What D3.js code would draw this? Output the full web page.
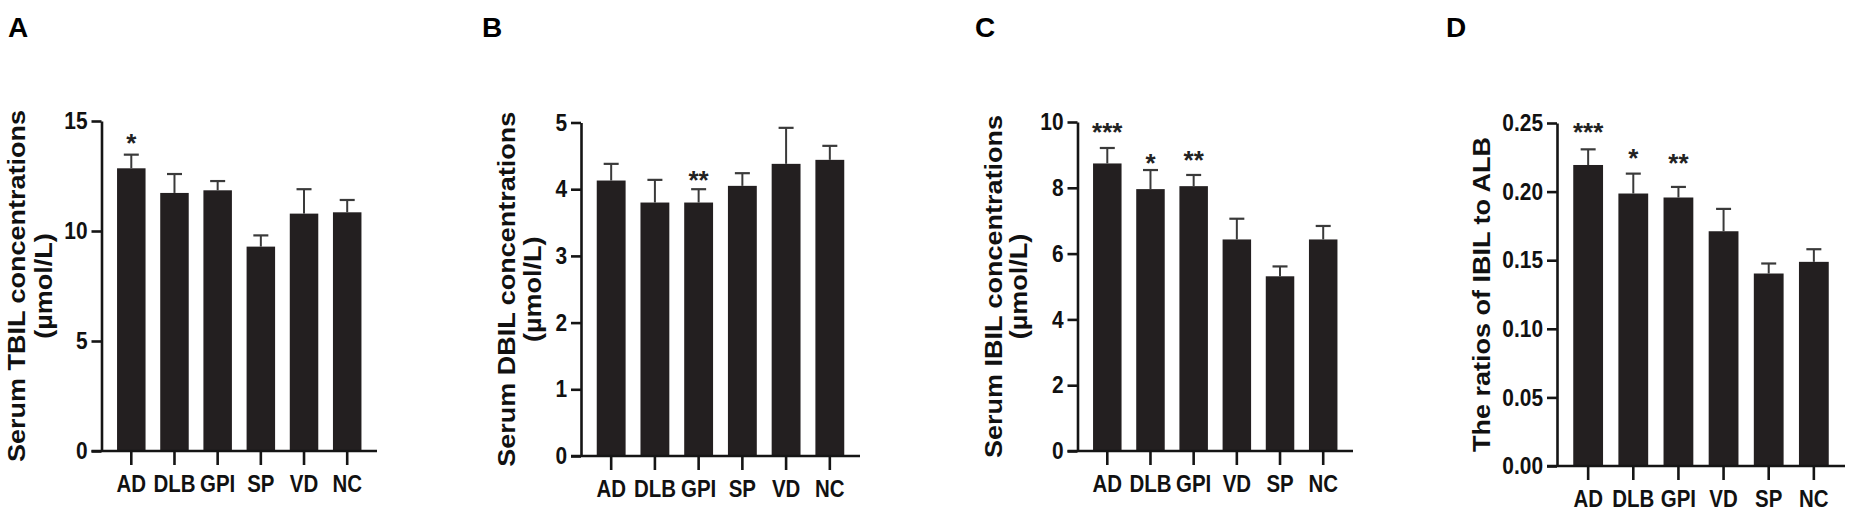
<!DOCTYPE html>
<html>
<head>
<meta charset="utf-8">
<script src="https://cdn.jsdelivr.net/npm/d3@7"></script>
<style>
  html, body { margin: 0; padding: 0; background: #fff; }
  svg { display: block; }
  text { font-family: "Liberation Sans", Arial, Helvetica, sans-serif; font-weight: bold; fill: #111; }
</style>
</head>
<body>
<svg id="chart" width="1850" height="523"></svg>
<script>
// ---------------- DATA ----------------
const categoriesA = ["AD", "DLB", "GPI", "SP", "VD", "NC"];
const meanA = [12.85, 11.73, 11.85, 9.29, 10.79, 10.85];
const semA  = [0.62, 0.86, 0.42, 0.51, 1.11, 0.56];
const ticksA = [0, 5, 10, 15];
const starsA = [{ cat: "AD", label: "*", y: 14.27 }];

const categoriesB = ["AD", "DLB", "GPI", "SP", "VD", "NC"];
const meanB = [4.13, 3.80, 3.80, 4.05, 4.38, 4.44];
const semB  = [0.25, 0.34, 0.20, 0.19, 0.54, 0.21];
const ticksB = [0, 1, 2, 3, 4, 5];
const starsB = [{ cat: "GPI", label: "**", y: 4.22 }];

const categoriesC = ["AD", "DLB", "GPI", "VD", "SP", "NC"];
const meanC = [8.74, 7.96, 8.05, 6.43, 5.31, 6.43];
const semC  = [0.47, 0.58, 0.34, 0.63, 0.30, 0.41];
const ticksC = [0, 2, 4, 6, 8, 10];
const starsC = [
  { cat: "AD", label: "***", y: 9.87 },
  { cat: "DLB", label: "*", y: 8.94 },
  { cat: "GPI", label: "**", y: 9.02 }
];

const categoriesD = ["AD", "DLB", "GPI", "VD", "SP", "NC"];
const meanD = [0.2194, 0.1986, 0.1957, 0.1711, 0.1403, 0.1488];
const semD  = [0.0114, 0.0145, 0.0077, 0.0163, 0.0073, 0.0092];
const ticksD = [0, 0.05, 0.10, 0.15, 0.20, 0.25];
const starsD = [
  { cat: "AD", label: "***", y: 0.2476 },
  { cat: "DLB", label: "*", y: 0.2289 },
  { cat: "GPI", label: "**", y: 0.2252 }
];

const titleA = ["Serum TBIL concentrations", "(µmol/L)"];
const titleB = ["Serum DBIL concentrations", "(µmol/L)"];
const titleC = ["Serum IBIL concentrations", "(µmol/L)"];
const titleD = ["The ratios of IBIL to ALB"];

// ---------------- LAYOUT ----------------
const panels = [
  { letter: "A", letterX: 8,    cats: categoriesA, mean: meanA, sem: semA, ticks: ticksA, stars: starsA, title: titleA,
    fmt: d3.format("d"),   left: 101.5, right: 377,  top: 121, bottom: 451, titleX: [25, 52] },
  { letter: "B", letterX: 482,  cats: categoriesB, mean: meanB, sem: semB, ticks: ticksB, stars: starsB, title: titleB,
    fmt: d3.format("d"),   left: 581,   right: 860,  top: 122.5, bottom: 456, titleX: [515, 541] },
  { letter: "C", letterX: 975,  cats: categoriesC, mean: meanC, sem: semC, ticks: ticksC, stars: starsC, title: titleC,
    fmt: d3.format("d"),   left: 1077.5, right: 1353, top: 122, bottom: 451, titleX: [1002, 1027] },
  { letter: "D", letterX: 1446, cats: categoriesD, mean: meanD, sem: semD, ticks: ticksD, stars: starsD, title: titleD,
    fmt: d3.format(".2f"), left: 1557,  right: 1845, top: 123, bottom: 466, titleX: [1490] }
];

const SX = 0.87;           // horizontal condensing of the original lettering
const BAR_COLOR = "#231f20";
const ERR_COLOR = "#3a3a3a";
const AXIS_COLOR = "#151515";

const svg = d3.select("#chart");

panels.forEach(p => {
  const g = svg.append("g");

  const y = d3.scaleLinear()
    .domain([0, d3.max(p.ticks)])
    .range([p.bottom, p.top]);

  const x = d3.scaleBand()
    .domain(p.cats)
    .range([p.left, p.right])
    .paddingInner(0.34)
    .paddingOuter(0.36);

  const rows = p.cats.map((c, i) => ({ cat: c, mean: p.mean[i], sem: p.sem[i] }));

  // bars
  g.selectAll("rect.bar").data(rows).join("rect")
    .attr("class", "bar")
    .attr("x", d => x(d.cat))
    .attr("width", x.bandwidth())
    .attr("y", d => y(d.mean))
    .attr("height", d => y(0) - y(d.mean))
    .attr("fill", BAR_COLOR);

  // error bars (upper only)
  const capW = 15;
  const eb = g.selectAll("g.err").data(rows).join("g").attr("class", "err");
  eb.append("line")
    .attr("x1", d => x(d.cat) + x.bandwidth() / 2)
    .attr("x2", d => x(d.cat) + x.bandwidth() / 2)
    .attr("y1", d => y(d.mean))
    .attr("y2", d => y(d.mean + d.sem))
    .attr("stroke", ERR_COLOR).attr("stroke-width", 2);
  eb.append("line")
    .attr("x1", d => x(d.cat) + x.bandwidth() / 2 - capW / 2)
    .attr("x2", d => x(d.cat) + x.bandwidth() / 2 + capW / 2)
    .attr("y1", d => y(d.mean + d.sem))
    .attr("y2", d => y(d.mean + d.sem))
    .attr("stroke", ERR_COLOR).attr("stroke-width", 2.2);

  // significance stars
  const starSize = 26;
  g.selectAll("text.star").data(p.stars).join("text")
    .attr("class", "star")
    .attr("x", d => x(d.cat) + x.bandwidth() / 2)
    .attr("y", d => y(d.y) + 0.575 * starSize)
    .attr("text-anchor", "middle")
    .style("font-size", starSize + "px")
    .style("font-weight", "bold")
    .style("fill", "#222")
    .text(d => d.label);

  // y axis
  const yAxis = d3.axisLeft(y)
    .tickValues(p.ticks)
    .tickFormat(p.fmt)
    .tickSize(10)
    .tickSizeOuter(0);
  const ya = g.append("g")
    .attr("transform", `translate(${p.left},0)`)
    .call(yAxis);
  ya.select(".domain").attr("stroke", AXIS_COLOR).attr("stroke-width", 2.6);
  ya.selectAll(".tick line").attr("stroke", AXIS_COLOR).attr("stroke-width", 2.6);
  ya.selectAll(".tick text")
    .attr("x", 0)
    .attr("transform", `translate(-14,0) scale(${SX},1)`)
    .style("font-size", "24px")
    .style("font-family", "'Liberation Sans', Arial, sans-serif")
    .style("font-weight", "bold")
    .attr("fill", "#111");

  // x axis
  const xAxis = d3.axisBottom(x).tickSize(14).tickSizeOuter(0);
  const xa = g.append("g")
    .attr("transform", `translate(0,${p.bottom})`)
    .call(xAxis);
  xa.select(".domain").remove();
  xa.selectAll(".tick line").attr("stroke", AXIS_COLOR).attr("stroke-width", 2.6);
  xa.selectAll(".tick text")
    .attr("y", 0)
    .attr("transform", `translate(0,24) scale(${SX},1)`)
    .style("font-size", "23.5px")
    .style("font-family", "'Liberation Sans', Arial, sans-serif")
    .style("font-weight", "bold")
    .attr("fill", "#111");
  g.append("line")
    .attr("x1", p.left - 10).attr("x2", p.right)
    .attr("y1", p.bottom).attr("y2", p.bottom)
    .attr("stroke", AXIS_COLOR).attr("stroke-width", 2.6);

  // y title (rotated)
  const cy = (p.top + p.bottom) / 2;
  p.title.forEach((t, i) => {
    g.append("text")
      .attr("transform", `translate(${p.titleX[i]},${cy}) scale(${SX},1) rotate(-90)`)
      .attr("text-anchor", "middle")
      .style("font-size", "27px")
      .text(t);
  });

  // panel letter
  svg.append("text")
    .attr("x", p.letterX)
    .attr("y", 37)
    .style("font-size", "28px")
    .style("fill", "#000")
    .text(p.letter);
});
</script>
</body>
</html>
